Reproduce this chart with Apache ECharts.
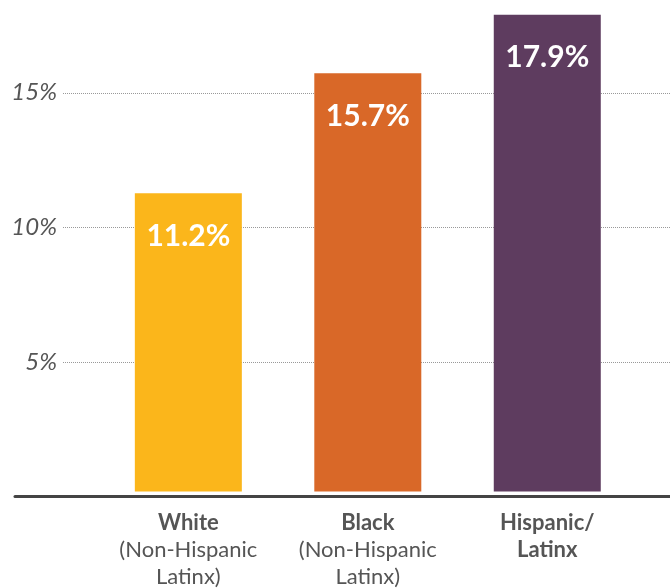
<!DOCTYPE html>
<html><head><meta charset="utf-8">
<script src="https://cdn.jsdelivr.net/npm/echarts@6/dist/echarts.min.js"></script>
<style>html,body{margin:0;padding:0;background:#fff}#c{width:670px;height:588px}</style>
</head><body><div id="c"></div>
<script>
const categories = ['White', 'Black', 'Hispanic/Latinx'];
const labelLines = [
  ['White', '(Non-Hispanic', 'Latinx)'],
  ['Black', '(Non-Hispanic', 'Latinx)'],
  ['Hispanic/', 'Latinx', '']
];
const boldLineCount = [1, 1, 2];
const values = [11.2, 15.7, 17.9];
const colors = ['#FBB61B', '#D96828', '#5E3C5F'];
const yTicks = [5, 10, 15];

const FONT = 'Lato';
const gridTop = 12, gridBottom = 91.5, yMax = 18;

const chart = echarts.init(document.getElementById('c'));
chart.setOption({
  animation: false,
  grid: [
    { left: 15, right: 0, top: gridTop, bottom: gridBottom },
    { left: 63, right: 0, top: gridTop, bottom: gridBottom },
    { left: 98.6, right: 33, top: gridTop, bottom: gridBottom }
  ],
  xAxis: [
    { gridIndex: 0, type: 'category', data: categories, axisLine: { show: true, lineStyle: { color: '#444', width: 3 } }, axisTick: { show: false }, axisLabel: { show: false } },
    { gridIndex: 1, type: 'category', data: categories, show: false },
    { gridIndex: 2, type: 'category', data: categories, axisLine: { show: false }, axisTick: { show: false },
      axisLabel: {
        margin: 18,
        interval: 0,
        fontFamily: FONT,
        formatter: function (v, i) {
          const lines = labelLines[i];
          return lines.filter(s => s !== '').map((s, k) => (k < boldLineCount[i] ? '{b|' + s + '}' : '{r|' + s + '}')).join('\n');
        },
        rich: {
          b: { fontFamily: FONT, fontWeight: 'bold', fontSize: 22, color: '#555', lineHeight: 27 },
          r: { fontFamily: FONT, fontSize: 22, color: '#555', lineHeight: 27 }
        }
      }
    }
  ],
  yAxis: [
    { gridIndex: 0, type: 'value', min: 0, max: yMax, show: false },
    { gridIndex: 1, type: 'value', min: 0, max: yMax, interval: 5,
      axisLine: { show: false }, axisTick: { show: false },
      splitLine: { show: true, showMaxLine: false, lineStyle: { color: '#999', type: [1, 1], width: 1 } },
      axisLabel: {
        margin: 6, fontFamily: FONT, fontStyle: 'italic', fontSize: 24, color: '#555',
        showMaxLabel: false,
        formatter: v => (yTicks.indexOf(v) >= 0 ? v + '%' : ''),
        padding: [18, 0, 0, 0]
      }
    },
    { gridIndex: 2, type: 'value', min: 0, max: yMax, show: false }
  ],
  series: [{
    type: 'bar',
    xAxisIndex: 2, yAxisIndex: 2,
    barWidth: 107,
    data: values.map((v, i) => ({ value: v, itemStyle: { color: colors[i] } })),
    label: {
      show: true, position: 'insideTop', distance: 28,
      formatter: p => p.value + '%',
      fontFamily: FONT, fontWeight: 'bold', fontSize: 30, color: '#fff'
    }
  }]
});
</script></body></html>
